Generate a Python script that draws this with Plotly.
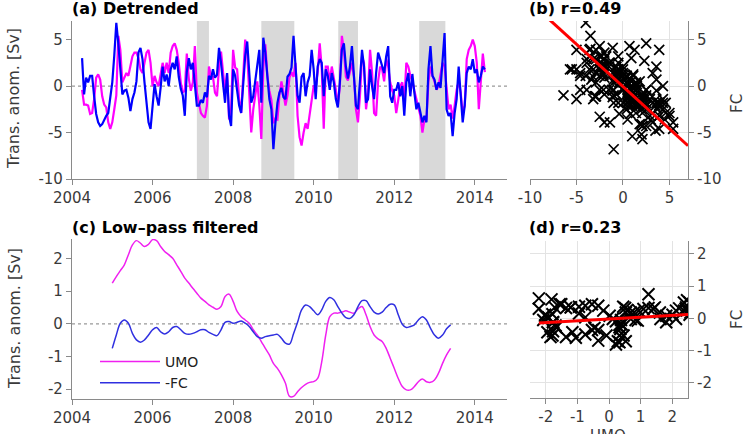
import plotly.graph_objects as go

# ---------------- data ----------------
T0_DET, DT_DET = 2004.25, 0.05
umo_det = [-0.4, -2.0, -2.0, -2.1, -3.0, -2.9, -1.4, 0.9, 1.25, 0.7,
           -1.1, -2.0, -2.3, -3.9, -4.6, -3.9, -2.5, -1.0, 5.4, 3.9,
           0.4, 0.9, 1.4, 1.1, 2.3, 3.2, 3.6, 3.6, 3.0, 1.8,
           1.4, 2.5, 3.6, 3.9, 2.5, 0.0, 1.1, 0.4, 0.0, 1.25,
           2.5, 1.4, 2.5, 1.4, 3.6, 4.3, 4.6, 3.9, 2.5, 0.4,
           -0.7, -0.5, 3.5, 0.8, -0.5, 0.4, 4.3, -0.7, -1.8, -2.9,
           -3.2, -3.4, -2.1, 2.1, 1.1, 1.0, -0.7, -1.1, 2.0, 3.7,
           1.5, -0.5, 1.4, -3.6, -2.5, 3.9, 2.0, 1.8, -1.5, -2.9,
           1.0, 5.0, 3.5, -1.0, -5.0, -2.5, -1.1, 0.5, -2.0, -5.7,
           2.0, 4.5, 1.1, -0.5, -1.5, -4.0, -3.5, -3.6, -1.0, 0.5,
           -0.8, -2.1, -1.0, 0.9, 1.5, 1.0, 2.5, -3.2, -5.5, -6.4,
           -5.0, -4.0, -4.6, -3.0, -1.4, 0.0, 0.0, 1.5, 4.6, 2.0,
           -4.6, 2.1, 2.1, 0.5, 2.1, 0.9, -0.4, -2.1, 0.0, 5.4,
           3.9, 1.0, 0.6, 1.5, 2.5, 1.0, -2.5, -3.9, -1.0, 3.2,
           2.5, -2.5, -0.7, 3.9, 1.5, -2.9, -3.2, 0.5, 2.1, 1.8,
           0.5, 2.9, 2.1, 0.4, -0.5, -1.0, -2.9, -1.5, 0.0, 0.4,
           -1.8, 2.5, 2.1, 1.1, 0.5, -0.5, -1.4, -2.5, -3.2, -5.0,
           -3.6, -3.6, 0.5, 2.1, 1.1, 0.5, -0.4, 0.0, 1.5, 2.5,
           2.1, -0.5, -2.5, -2.0, -3.5, -2.1, -0.4, 0.5, -0.7, -2.9,
           -2.1, 2.9, 3.9, 4.3, 5.0, 4.3, 2.5, -2.5, 0.5, 3.5,
           1.5]
negfc_det = [3.0, -0.9, 0.9, 0.4, 1.1, 1.1, -1.1, -3.0, -3.9, -4.3,
             -4.1, -3.6, -3.2, -2.9, -1.4, 0.4, 3.3, 6.8, 4.6, 2.1,
             -0.9, -0.5, -0.4, -1.25, -2.7, -1.4, -0.7, 0.5, 3.6, 4.1,
             2.9, 0.4, -2.1, -3.9, -4.6, -1.8, 0.2, -1.1, -2.1, -0.2,
             2.1, 0.5, 1.25, 0.0, 1.8, 2.5, 1.8, 3.2, 1.0, -0.3,
             -1.0, -3.2, 1.5, 3.0, 1.8, 2.5, 0.0, -2.1, -2.1, -1.5,
             -1.8, -0.7, -1.2, 1.1, 0.7, 1.8, 0.9, 1.2, 4.1, 2.5,
             0.3, -1.8, 1.4, -3.2, -4.3, 1.8, 1.1, -0.5, -2.1, -2.9,
             0.0, 3.2, 4.8, 1.8, -1.8, -1.1, 0.5, 1.8, 3.9, -1.8,
             5.2, 3.6, 1.1, -1.4, -2.5, -6.8, -4.0, -1.8, -0.7, -0.2,
             -1.2, -1.4, 1.0, 1.3, 2.0, 5.4, 2.1, -1.0, -1.8, 1.0,
             1.4, -1.1, 0.4, 1.1, 3.9, 1.8, -1.4, 2.1, 2.9, 2.5,
             -1.1, 1.8, 1.1, -0.4, 1.4, 0.4, -1.4, -2.3, 0.4, 3.9,
             4.6, 2.1, 0.8, 2.1, 4.3, 1.4, -2.1, -2.5, 0.4, 3.9,
             2.1, -1.8, -1.4, 1.8, 0.0, -1.4, 1.4, 3.6, 2.9, 2.1,
             1.4, 3.2, 4.3, -1.1, -1.8, -0.4, -0.4, 0.4, -1.1, 0.0,
             -3.2, 0.4, 1.4, -1.1, 1.3, -0.7, -2.5, -1.8, -2.9, -3.9,
             -3.2, -3.9, 1.8, 4.3, 1.1, 0.7, -0.4, 0.4, -0.2, 2.5,
             5.7, -2.5, -3.2, -2.9, -5.4, -2.9, -1.4, 2.1, -0.7, -3.9,
             -2.1, 1.4, 2.1, 1.8, 2.9, 1.4, 1.8, 0.4, 1.1, 2.1,
             1.8]

T0_LP, DT_LP = 2005.0, 0.1
umo_lp = [1.25, 1.45, 1.63, 1.81, 2.12, 2.42, 2.55, 2.47, 2.37, 2.44,
          2.58, 2.55, 2.37, 2.22, 2.12, 2.01, 1.81, 1.61, 1.40, 1.25,
          1.09, 0.94, 0.79, 0.69, 0.58, 0.51, 0.45, 0.53, 0.84, 0.91,
          0.69, 0.38, 0.22, 0.12, 0.02, -0.18, -0.34, -0.54, -0.75, -0.95,
          -1.21, -1.36, -1.56, -1.82, -2.22, -2.22, -2.08, -1.95, -1.85, -1.79,
          -1.77, -1.67, -1.16, -0.34, 0.22, 0.33, 0.33, 0.36, 0.40, 0.36,
          0.33, 0.46, 0.53, 0.28, -0.08, -0.34, -0.46, -0.54, -0.75, -1.05,
          -1.36, -1.67, -1.92, -2.02, -2.02, -1.92, -1.77, -1.69, -1.77, -1.79,
          -1.72, -1.51, -1.21, -0.95, -0.75]
negfc_lp = [-0.75, -0.34, 0.02, 0.12, 0.02, -0.29, -0.49, -0.56, -0.49, -0.34,
            -0.18, -0.11, -0.24, -0.31, -0.24, -0.11, -0.08, -0.18, -0.29, -0.32,
            -0.29, -0.24, -0.18, -0.18, -0.26, -0.32, -0.36, -0.18, 0.05, 0.07,
            0.02, 0.05, 0.09, 0.02, -0.08, -0.24, -0.39, -0.44, -0.39, -0.36,
            -0.34, -0.32, -0.44, -0.59, -0.62, -0.30, 0.05, 0.43, 0.58, 0.53,
            0.40, 0.28, 0.43, 0.69, 0.81, 0.74, 0.53, 0.33, 0.19, 0.17,
            0.28, 0.53, 0.71, 0.71, 0.53, 0.36, 0.30, 0.36, 0.50, 0.60,
            0.58, 0.28, -0.01, -0.11, -0.08, -0.03, 0.12, 0.22, 0.12, -0.13,
            -0.34, -0.44, -0.34, -0.15, -0.03]

shade_start = [2007.10, 2008.70, 2010.61, 2012.62]
shade_end = [2007.40, 2009.52, 2011.10, 2013.27]

fit_b = {"slope": -0.91, "icpt": -0.05}
fit_d = {"slope": 0.057, "icpt": -0.02}

x_ticks_time = [2004, 2006, 2008, 2010, 2012, 2014]
ticks_big = [-10, -5, 0, 5]
ticks_small = [-2, -1, 0, 1, 2]

# ---------------- derived ----------------
t_det = [round(T0_DET + DT_DET * i, 3) for i in range(len(umo_det))]
t_lp = [round(T0_LP + DT_LP * i, 3) for i in range(len(umo_lp))]
fc_det = [-v for v in negfc_det]
fc_lp = [-v for v in negfc_lp]

def labels(vals):
    return [str(v) for v in vals]

MAG = "#ff00ff"
BLU = "#0000ff"
AX = "#8a8a8a"
TXT = "#3a3a3a"
FONT = "DejaVu Sans, Verdana, sans-serif"

fig = go.Figure()

# (a)
fig.add_trace(go.Scatter(x=t_det, y=umo_det, mode="lines", line=dict(color=MAG, width=2.2),
                         showlegend=False, xaxis="x", yaxis="y"))
fig.add_trace(go.Scatter(x=t_det, y=negfc_det, mode="lines", line=dict(color=BLU, width=2.2),
                         showlegend=False, xaxis="x", yaxis="y"))
# (b)
fig.add_trace(go.Scatter(x=umo_det, y=fc_det, mode="markers",
                         marker=dict(symbol="x-thin", size=10, line=dict(color="black", width=1.7)),
                         showlegend=False, xaxis="x2", yaxis="y2"))
bx = [-10, 7]
fig.add_trace(go.Scatter(x=bx, y=[fit_b["slope"] * v + fit_b["icpt"] for v in bx], mode="lines",
                         line=dict(color="#ff0000", width=3), showlegend=False, xaxis="x2", yaxis="y2"))
# (c)
fig.add_trace(go.Scatter(x=t_lp, y=umo_lp, mode="lines", name="UMO", line=dict(color="#f020f0", width=1.5, shape="spline"),
                         xaxis="x3", yaxis="y3"))
fig.add_trace(go.Scatter(x=t_lp, y=negfc_lp, mode="lines", name="-FC", line=dict(color="#3030e0", width=1.5, shape="spline"),
                         xaxis="x3", yaxis="y3"))
# (d)
fig.add_trace(go.Scatter(x=umo_lp, y=fc_lp, mode="markers",
                         marker=dict(symbol="x-thin", size=12, line=dict(color="black", width=2)),
                         showlegend=False, xaxis="x4", yaxis="y4"))
dx = [min(umo_lp), max(umo_lp)]
fig.add_trace(go.Scatter(x=dx, y=[fit_d["slope"] * v + fit_d["icpt"] for v in dx], mode="lines",
                         line=dict(color="#ff0000", width=3), showlegend=False, xaxis="x4", yaxis="y4"))

W, H = 746, 434
def px(x): return x / W
def py(y): return 1 - y / H

common = dict(showline=True, linecolor=AX, linewidth=1.2, ticks="outside", ticklen=5, tickcolor=AX,
              tickfont=dict(family=FONT, size=15, color=TXT), zeroline=False, automargin=False)

shapes = []
for s, e in zip(shade_start, shade_end):
    shapes.append(dict(type="rect", xref="x", yref="y domain", x0=s, x1=e, y0=0, y1=1,
                       fillcolor="#d9d9d9", line=dict(width=0), layer="below"))
for xr, yr in (("x domain", "y"), ("x3 domain", "y3")):
    shapes.append(dict(type="line", xref=xr, yref=yr, x0=0, x1=1, y0=0, y1=0,
                       line=dict(color="#999999", width=1.2, dash="dot"), layer="below"))

ann = []
def title(txt, x, y):
    ann.append(dict(text="<b>%s</b>" % txt, x=px(x), y=py(y), xref="paper", yref="paper",
                    xanchor="left", yanchor="middle", showarrow=False,
                    font=dict(family=FONT, size=16, color="black")))
title("(a) Detrended", 70, 8)
title("(b) r=0.49", 527, 8)
title("(c) Low\u2013pass filtered", 70, 228)
title("(d) r=0.23", 527, 228)
for yc in (99, 319):
    ann.append(dict(text="Trans. anom. [Sv]", x=px(14), y=py(yc), xref="paper", yref="paper",
                    xanchor="center", yanchor="middle", textangle=-90, showarrow=False,
                    font=dict(family=FONT, size=16, color=TXT)))
for yc in (104, 320):
    ann.append(dict(text="FC", x=px(737), y=py(yc), xref="paper", yref="paper",
                    xanchor="center", yanchor="middle", textangle=-90, showarrow=False,
                    font=dict(family=FONT, size=15, color=TXT)))
ann.append(dict(text="UMO", x=px(608), y=py(425), xref="paper", yref="paper",
                xanchor="center", yanchor="top", showarrow=False,
                font=dict(family=FONT, size=15, color=TXT)))

fig.update_layout(
    width=W, height=H, margin=dict(l=0, r=0, t=0, b=0, autoexpand=False),
    paper_bgcolor="white", plot_bgcolor="white",
    xaxis=dict(domain=[px(72), px(507)], range=[2004, 2014.8], tickvals=x_ticks_time, anchor="y",
               showgrid=False, **common),
    yaxis=dict(domain=[py(179), py(21)], range=[-10, 7], tickvals=ticks_big, ticktext=labels(ticks_big),
               anchor="x", showgrid=False, **common),
    xaxis2=dict(domain=[px(530), px(688)], range=[-10, 7], tickvals=ticks_big, ticktext=labels(ticks_big),
                anchor="y2", showgrid=True, gridcolor="#e3e3e3", **common),
    yaxis2=dict(domain=[py(179), py(21)], range=[-10, 7], tickvals=ticks_big, ticktext=labels(ticks_big),
                anchor="x2", side="right", showgrid=True, gridcolor="#e3e3e3", **common),
    xaxis3=dict(domain=[px(72), px(507)], range=[2004, 2014.8], tickvals=x_ticks_time, anchor="y3",
                showgrid=False, **common),
    yaxis3=dict(domain=[py(399), py(239)], range=[-2.3, 2.6], tickvals=ticks_small, ticktext=labels(ticks_small),
                anchor="x3", showgrid=False, **common),
    xaxis4=dict(domain=[px(530), px(688)], range=[-2.5, 2.5], tickvals=ticks_small, ticktext=labels(ticks_small),
                anchor="y4", showgrid=True, gridcolor="#e3e3e3", **common),
    yaxis4=dict(domain=[py(398), py(241)], range=[-2.47, 2.4], tickvals=ticks_small, ticktext=labels(ticks_small),
                anchor="x4", side="right", showgrid=True, gridcolor="#e3e3e3", **common),
    shapes=shapes, annotations=ann,
    showlegend=True,
    legend=dict(x=px(95), y=py(346), xanchor="left", yanchor="top", bgcolor="rgba(0,0,0,0)",
                font=dict(family=FONT, size=14, color="#222222"), itemwidth=60, tracegroupgap=0),
)

fig.write_html("out.html")
